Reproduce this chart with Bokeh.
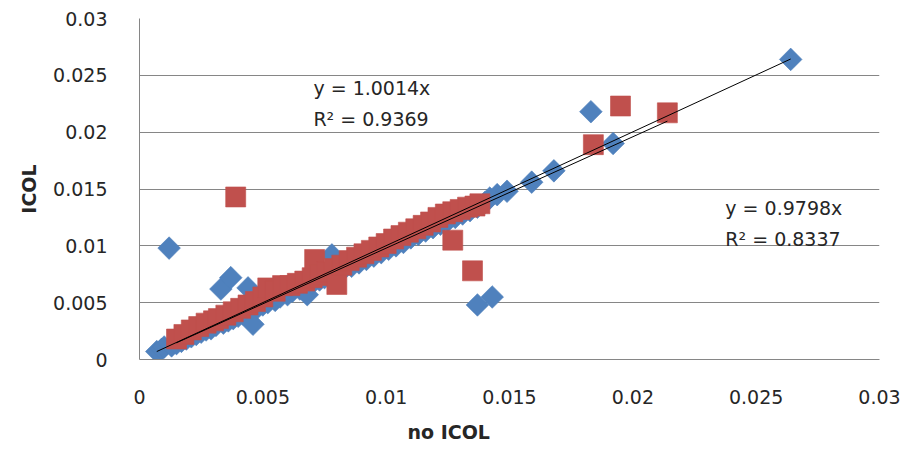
from bokeh.plotting import figure
from bokeh.models import Range1d, Label, FixedTicker, CustomJSTickFormatter, Title
from bokeh.embed import file_html
from bokeh.resources import INLINE

# ---- data ----
blue_x = [0.0007, 0.0009, 0.0010, 0.0012, 0.0013, 0.0015, 0.0017, 0.0019, 0.0021, 0.0023,
          0.0025, 0.0027, 0.0029, 0.0031, 0.0033, 0.0034, 0.0036, 0.0037, 0.0038, 0.0040,
          0.0042, 0.0044, 0.0045, 0.0046, 0.0048, 0.0050, 0.0052, 0.0055, 0.0057, 0.0060,
          0.0062, 0.0065, 0.0068, 0.0070, 0.0073, 0.0075, 0.0078, 0.0080, 0.0083, 0.0086,
          0.0089, 0.0092, 0.0095, 0.0098, 0.0101, 0.0104, 0.0107, 0.0110, 0.0113, 0.0116,
          0.0119, 0.0122, 0.0125, 0.0128, 0.0131, 0.0134, 0.0137, 0.0137, 0.0140, 0.0142,
          0.0143, 0.0145, 0.0149, 0.0159, 0.0168, 0.0183, 0.0192, 0.0264]
blue_y = [0.0007, 0.0009, 0.0011, 0.0098, 0.0012, 0.0014, 0.0016, 0.0018, 0.0020, 0.0022,
          0.0024, 0.0026, 0.0027, 0.0030, 0.0062, 0.0032, 0.0034, 0.0072, 0.0036, 0.0038,
          0.0040, 0.0063, 0.0043, 0.0031, 0.0046, 0.0048, 0.0050, 0.0052, 0.0055, 0.0057,
          0.0060, 0.0062, 0.0057, 0.0067, 0.0070, 0.0072, 0.0092, 0.0077, 0.0080, 0.0082,
          0.0085, 0.0088, 0.0091, 0.0094, 0.0097, 0.0100, 0.0103, 0.0107, 0.0110, 0.0113,
          0.0116, 0.0119, 0.0122, 0.0125, 0.0128, 0.0131, 0.0048, 0.0134, 0.0138, 0.0142,
          0.0055, 0.0145, 0.0148, 0.0156, 0.0166, 0.0218, 0.0190, 0.0264]

red_x = [0.0015, 0.0018, 0.0021, 0.0024, 0.0027, 0.0030, 0.0032, 0.0035, 0.0038, 0.0039,
         0.0041, 0.0044, 0.0047, 0.0050, 0.0052, 0.0055, 0.0058, 0.0061, 0.0064, 0.0067,
         0.0070, 0.0071, 0.0073, 0.0076, 0.0079, 0.0080, 0.0082, 0.0085, 0.0088, 0.0091,
         0.0094, 0.0097, 0.0100, 0.0103, 0.0106, 0.0109, 0.0112, 0.0115, 0.0118, 0.0121,
         0.0124, 0.0127, 0.0127, 0.0130, 0.0133, 0.0135, 0.0136, 0.0138, 0.0184, 0.0195,
         0.0214]
red_y = [0.0018, 0.0022, 0.0026, 0.0029, 0.0032, 0.0034, 0.0036, 0.0039, 0.0042, 0.0143,
         0.0045, 0.0048, 0.0051, 0.0055, 0.0063, 0.0060, 0.0065, 0.0065, 0.0067, 0.0069,
         0.0072, 0.0088, 0.0074, 0.0077, 0.0080, 0.0066, 0.0083, 0.0087, 0.0090, 0.0093,
         0.0096, 0.0099, 0.0102, 0.0106, 0.0109, 0.0112, 0.0115, 0.0118, 0.0121, 0.0125,
         0.0128, 0.0105, 0.0130, 0.0132, 0.0134, 0.0078, 0.0135, 0.0137, 0.0189, 0.0223,
         0.0217]

blue_slope = 1.0014
blue_r2 = "0.9369"
red_slope = 0.9798
red_r2 = "0.8337"

ticks = [0, 0.005, 0.01, 0.015, 0.02, 0.025, 0.03]

FONT = "DejaVu Sans"
TXT = "#262626"
GRID = "#868686"
BLUE = "#4F81BD"
RED = "#C0504D"

p = figure(width=917, height=458, output_backend="svg", toolbar_location=None,
           x_range=Range1d(0, 0.03), y_range=Range1d(0, 0.03),
           min_border_left=139, min_border_right=38, min_border_top=18, min_border_bottom=99)
p.outline_line_color = None
p.background_fill_color = "white"
p.border_fill_color = "white"

fmt = CustomJSTickFormatter(code="return parseFloat(tick.toFixed(4)).toString();")
for ax in (p.xaxis[0], p.yaxis[0]):
    ax.ticker = FixedTicker(ticks=ticks)
    ax.formatter = fmt
    ax.axis_line_color = GRID
    ax.major_tick_line_color = None
    ax.minor_tick_line_color = None
    ax.major_label_text_font = FONT
    ax.major_label_text_font_size = "19px"
    ax.major_label_text_color = TXT

p.yaxis[0].major_label_standoff = 26
p.xaxis[0].major_label_standoff = 24
p.yaxis[0].axis_label = "ICOL"
p.yaxis[0].axis_label_text_font = FONT
p.yaxis[0].axis_label_text_font_style = "bold"
p.yaxis[0].axis_label_text_font_size = "19px"
p.yaxis[0].axis_label_text_color = TXT
p.yaxis[0].axis_label_standoff = 10

p.xgrid.grid_line_color = None
p.ygrid.grid_line_color = GRID
p.ygrid.grid_line_width = 1

# markers: blue diamonds then red squares
p.scatter(blue_x, blue_y, marker="square", size=16, angle=0.785398,
          fill_color=BLUE, line_color=BLUE, line_alpha=0.6)
p.scatter(red_x, red_y, marker="square", size=20,
          fill_color=RED, line_color=RED, line_alpha=0.6)

# linear trendlines through origin
bx = [min(blue_x), max(blue_x)]
rx = [min(red_x), max(red_x)]
p.line(bx, [v * blue_slope for v in bx], line_color="black", line_width=1)
p.line(rx, [v * red_slope for v in rx], line_color="black", line_width=1)

def lab(x, y, t):
    l = Label(x=x, y=y, text=t, text_font=FONT, text_font_size="19px", text_color=TXT,
              text_baseline="middle", text_align="left")
    p.add_layout(l)

lab(0.00705, 0.0239, "y = %.4fx" % blue_slope)
lab(0.00705, 0.0212, "R² = " + blue_r2)
lab(0.02375, 0.01337, "y = %.4fx" % red_slope)
lab(0.02375, 0.01064, "R² = " + red_r2)

xt = Title(text="no ICOL", align="left", offset=268, text_font=FONT,
           text_font_size="19px", text_font_style="bold", text_color=TXT, standoff=24)
p.add_layout(xt, "below")

open("out.html", "w").write(file_html(p, INLINE))
